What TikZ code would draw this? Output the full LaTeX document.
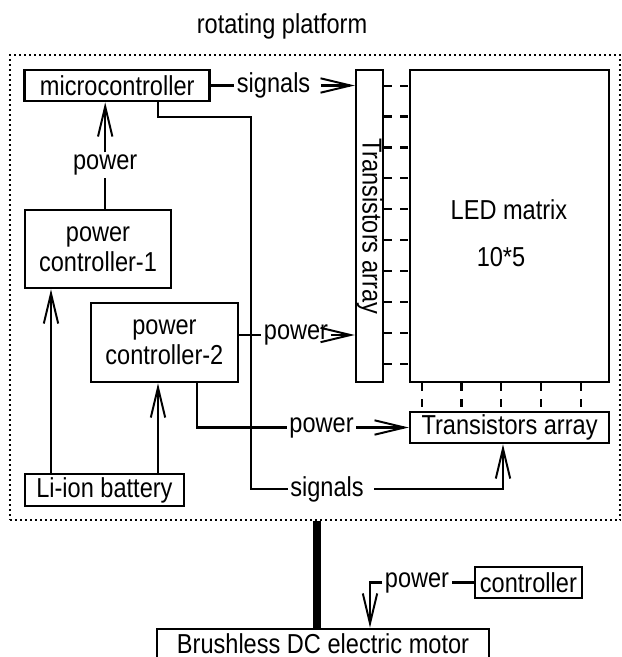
\documentclass[tikz,border=0pt]{standalone}
\usepackage{fontspec}
\setmainfont{Liberation Sans}[FakeStretch=0.86]
\usetikzlibrary{arrows.meta}

\begin{document}
\begin{tikzpicture}[
    line width=1.6pt,
    >={Straight Barb[length=0.75cm, width=0.36cm, line width=1.4pt]},
    font=\fontsize{19.5}{21.3}\selectfont,
    block/.style={draw, line width=1.9pt, inner sep=0pt, align=center},
    tag/.style={inner sep=1pt},
    ticks/.style={dash pattern=on 0.2cm off 0.2cm},
    frame/.style={draw, line width=1.4pt, dash pattern=on 0.05cm off 0.075cm}
]

    \useasboundingbox (0,0) rectangle (15.525,-16.425);

    % ================= platform frame =================
    \node (title) at (7.05,-0.65) {rotating platform};
    \node[frame, minimum width=15.26cm, minimum height=11.625cm] (platform) at (7.88,-7.19) {};

    % ================= blocks =================
    \node[block, minimum width=4.63cm, minimum height=0.775cm] (micro) at (2.93,-2.1375) {microcontroller};
    \node[block, minimum width=3.65cm, minimum height=1.95cm] (pcOne) at (2.45,-6.225) {power\\controller-1};
    \node[block, minimum width=3.675cm, minimum height=1.975cm] (pcTwo) at (4.11,-8.5625) {power\\controller-2};
    \node[block, minimum width=3.975cm, minimum height=0.8cm] (li) at (2.61,-12.25) {Li-ion battery};

    \node[block, minimum width=0.675cm, minimum height=7.8cm] (tv) at (9.24,-5.65) {};
    \node[rotate=-90] (tvtxt) at (tv.center) {Transistors array};
    \node[block, minimum width=4.975cm, minimum height=7.8cm] (led) at (12.74,-5.65) {};
    \node (ledtxt) at (12.725,-5.25) {LED matrix};
    \node (leddim) at (12.525,-6.425) {10*5};
    \node[block, minimum width=4.975cm, minimum height=0.775cm] (th) at (12.74,-10.6875) {Transistors array};

    \node[block, minimum width=2.675cm, minimum height=0.775cm] (ctrl) at (13.21,-14.5625) {controller};
    \node[block, minimum width=8.3cm, minimum height=0.8cm] (motor) at (8.075,-16.125) {};
    \node[inner sep=0pt] (motortxt) at (8.075,-16.08) {Brushless DC electric motor};

    % ================= labels and bends =================
    \node[tag] (sigA) at (6.84,-2.1375) {signals};
    \node[tag] (pwA) at (2.63,-4.125) {power};
    \node[tag] (pwB) at (7.4,-8.375) {power};
    \node[tag] (pwC) at (8.04,-10.6875) {power};
    \node[tag] (sigB) at (8.175,-12.225) {signals};
    \node[tag] (pwD) at (10.425,-14.5625) {power};

    \coordinate (c1) at (1.275,0);
    \coordinate (c2) at (3.95,0);
    \coordinate (c3) at (4.925,0);
    \coordinate (c4) at (6.275,-2.925);
    \coordinate (c5) at (12.575,0);
    \coordinate (c6) at (9.25,0);
    \coordinate (c7) at (7.925,0);

    % ================= connectors =================
    \draw (micro.east) -- (sigA);
    \draw[->] ([xshift=0.2cm]sigA.east) -- (sigA -| tv.west);

    \draw (pcOne.north -| pwA) -- (pwA);
    \draw[->] (pwA) -- (pwA |- micro.south);

    \draw[->] (li.north -| c1) -- (pcOne.south -| c1);
    \draw[->] (li.north -| c2) -- (pcTwo.south -| c2);

    \draw (pcTwo.east |- pwB) -- (pwB);
    \draw[->] (pwB) -- (pwB -| tv.west);

    \draw (pcTwo.south -| c3) |- (pwC);
    \draw[->] (pwC) -- (pwC -| th.west);

    \draw (micro.south -| c2) |- (c4) |- (sigB);
    \draw[->] ([xshift=0.2cm]sigB.east) -| (th.south -| c5);

    \draw (ctrl.west) -- (pwD);
    \draw[->] (pwD) -| (motor.north -| c6);

    % shaft
    \draw[line width=5pt] (platform.south -| c7) -- (motor.north -| c7);

    % ================= transistor to LED ticks =================
    \foreach \i in {0,...,9} {
        \pgfmathsetmacro{\dy}{-0.425-0.7725*\i}
        \draw[ticks] ([yshift=\dy cm]tv.north east) -- ([yshift=\dy cm]led.north west);
    }
    \foreach \i in {0,...,4} {
        \pgfmathsetmacro{\dx}{0.325+0.99375*\i}
        \draw[ticks] ([xshift=\dx cm]led.south west) -- ([xshift=\dx cm]th.north west);
    }

\end{tikzpicture}
\end{document}
